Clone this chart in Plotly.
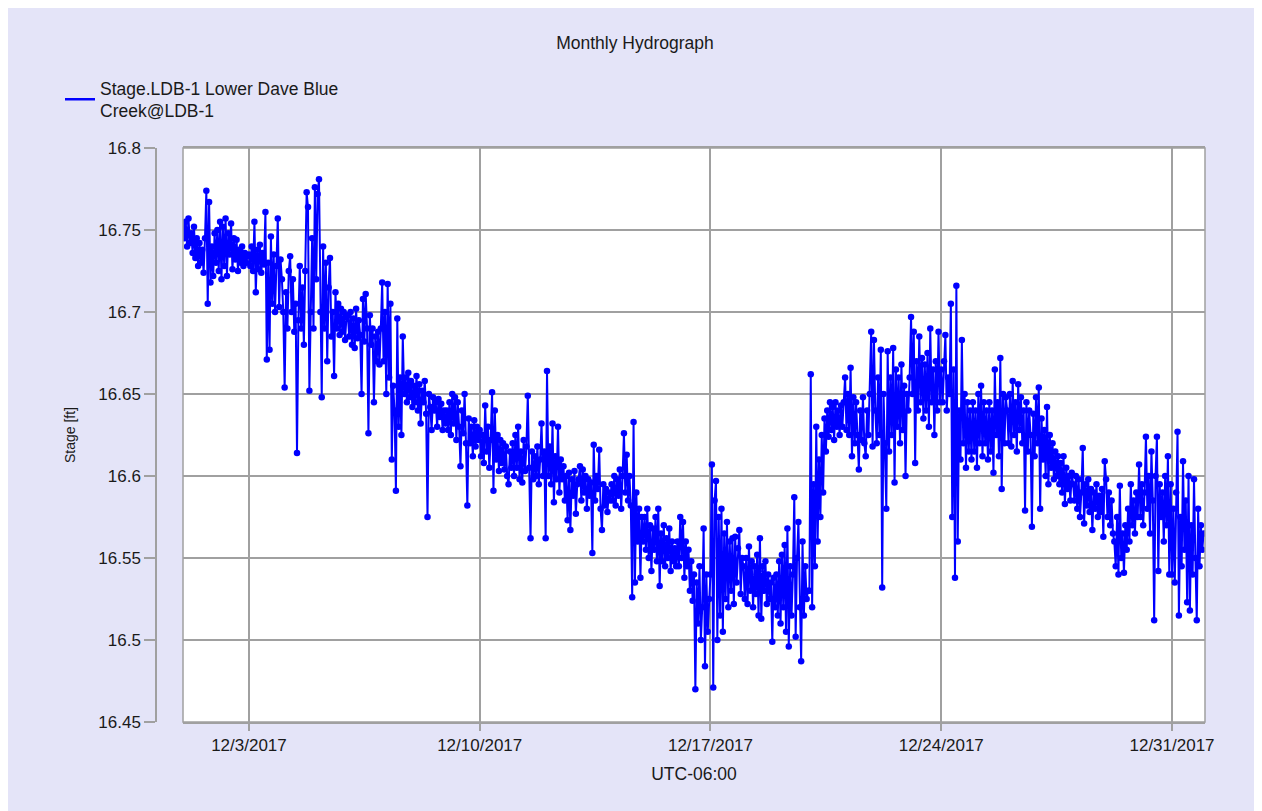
import pandas as pd
import plotly.graph_objects as go

# ---- data (hourly steps starting 12/1/2017 00:00) ----
start_time = "2017-12-01 00:00"
step = "1h"
stage_ft = [
    # 12/1
    16.752, 16.745, 16.755, 16.740, 16.757, 16.742, 16.748, 16.736, 16.752, 16.733, 16.745, 16.728,
    16.742, 16.730, 16.738, 16.724, 16.745, 16.774, 16.705, 16.767, 16.718, 16.740, 16.722, 16.748,
    # 12/2
    16.730, 16.750, 16.725, 16.755, 16.720, 16.752, 16.728, 16.757, 16.722, 16.748, 16.735, 16.754,
    16.726, 16.745, 16.732, 16.744, 16.725, 16.738, 16.730, 16.740, 16.728, 16.736, 16.730, 16.734,
    # 12/3
    16.735, 16.728, 16.740, 16.725, 16.755, 16.712, 16.738, 16.726, 16.741, 16.724, 16.736, 16.729,
    16.761, 16.671, 16.730, 16.677, 16.746, 16.705, 16.735, 16.700, 16.728, 16.757, 16.703, 16.732,
    # 12/4
    16.720, 16.700, 16.654, 16.712, 16.690, 16.725, 16.734, 16.700, 16.720, 16.688, 16.705, 16.614,
    16.695, 16.728, 16.690, 16.715, 16.680, 16.725, 16.773, 16.764, 16.652, 16.700, 16.745, 16.690,
    # 12/5
    16.776, 16.720, 16.772, 16.781, 16.700, 16.648, 16.740, 16.690, 16.730, 16.670, 16.715, 16.733,
    16.685, 16.700, 16.661, 16.712, 16.690, 16.705, 16.686, 16.702, 16.688, 16.700, 16.683, 16.697,
    # 12/6
    16.698, 16.685, 16.700, 16.680, 16.696, 16.678, 16.702, 16.684, 16.695, 16.686, 16.650, 16.708,
    16.682, 16.711, 16.690, 16.626, 16.698, 16.680, 16.690, 16.645, 16.685, 16.670, 16.688, 16.668,
    # 12/7
    16.690, 16.718, 16.670, 16.700, 16.650, 16.717, 16.660, 16.705, 16.610, 16.655, 16.640, 16.591,
    16.696, 16.630, 16.660, 16.625, 16.685, 16.650, 16.660, 16.645, 16.663, 16.648, 16.658, 16.642,
    # 12/8
    16.655, 16.645, 16.661, 16.640, 16.656, 16.632, 16.652, 16.645, 16.658, 16.638, 16.575, 16.650,
    16.642, 16.628, 16.648, 16.640, 16.645, 16.630, 16.647, 16.636, 16.644, 16.628, 16.640, 16.632,
    # 12/9
    16.640, 16.628, 16.645, 16.625, 16.650, 16.632, 16.648, 16.622, 16.645, 16.630, 16.606, 16.640,
    16.626, 16.650, 16.620, 16.582, 16.635, 16.620, 16.630, 16.612, 16.634, 16.618, 16.630, 16.622,
    # 12/10
    16.628, 16.612, 16.625, 16.608, 16.643, 16.615, 16.630, 16.605, 16.622, 16.651, 16.591, 16.640,
    16.610, 16.625, 16.603, 16.622, 16.608, 16.620, 16.604, 16.618, 16.600, 16.595, 16.615, 16.605,
    # 12/11
    16.620, 16.600, 16.625, 16.605, 16.630, 16.598, 16.615, 16.596, 16.622, 16.603, 16.618, 16.649,
    16.605, 16.562, 16.615, 16.598, 16.612, 16.600, 16.618, 16.595, 16.610, 16.632, 16.600, 16.615,
    # 12/12
    16.562, 16.664, 16.600, 16.618, 16.595, 16.632, 16.584, 16.612, 16.598, 16.630, 16.590, 16.610,
    16.598, 16.606, 16.585, 16.600, 16.573, 16.602, 16.567, 16.598, 16.588, 16.603, 16.577, 16.595,
    # 12/13
    16.598, 16.606, 16.585, 16.604, 16.590, 16.600, 16.580, 16.598, 16.588, 16.596, 16.553, 16.619,
    16.585, 16.600, 16.592, 16.616, 16.580, 16.567, 16.595, 16.582, 16.592, 16.578, 16.590, 16.585,
    # 12/14
    16.595, 16.585, 16.600, 16.582, 16.598, 16.588, 16.604, 16.580, 16.600, 16.626, 16.590, 16.613,
    16.585, 16.600, 16.582, 16.526, 16.633, 16.535, 16.590, 16.560, 16.580, 16.538, 16.575, 16.560,
    # 12/15
    16.575, 16.555, 16.580, 16.550, 16.570, 16.542, 16.568, 16.555, 16.575, 16.548, 16.580, 16.533,
    16.565, 16.548, 16.570, 16.545, 16.562, 16.550, 16.568, 16.542, 16.560, 16.548, 16.556, 16.545,
    # 12/16
    16.560, 16.545, 16.575, 16.550, 16.572, 16.538, 16.560, 16.545, 16.555, 16.530, 16.548, 16.524,
    16.540, 16.470, 16.535, 16.510, 16.545, 16.500, 16.520, 16.568, 16.484, 16.540, 16.505, 16.525,
    # 12/17
    16.540, 16.607, 16.471, 16.585, 16.597, 16.500, 16.575, 16.515, 16.580, 16.505, 16.565, 16.525,
    16.572, 16.520, 16.560, 16.530, 16.562, 16.522, 16.563, 16.535, 16.556, 16.567, 16.528, 16.550,
    # 12/18
    16.545, 16.525, 16.550, 16.522, 16.557, 16.530, 16.548, 16.520, 16.545, 16.528, 16.552, 16.515,
    16.562, 16.513, 16.545, 16.530, 16.548, 16.522, 16.540, 16.525, 16.535, 16.499, 16.538, 16.520,
    # 12/19
    16.540, 16.515, 16.548, 16.510, 16.552, 16.520, 16.558, 16.505, 16.568, 16.496, 16.545, 16.515,
    16.540, 16.587, 16.502, 16.550, 16.572, 16.520, 16.487, 16.560, 16.515, 16.545, 16.525, 16.530,
    # 12/20
    16.530, 16.662, 16.520, 16.595, 16.545, 16.630, 16.560, 16.610, 16.575, 16.625, 16.590, 16.635,
    16.615, 16.640, 16.624, 16.645, 16.628, 16.642, 16.622, 16.645, 16.630, 16.640, 16.625, 16.643,
    # 12/21
    16.630, 16.645, 16.660, 16.628, 16.650, 16.625, 16.666, 16.612, 16.648, 16.620, 16.645, 16.625,
    16.604, 16.640, 16.622, 16.648, 16.620, 16.612, 16.640, 16.625, 16.650, 16.688, 16.618, 16.683,
    # 12/22
    16.640, 16.620, 16.660, 16.625, 16.677, 16.532, 16.650, 16.620, 16.580, 16.676, 16.615, 16.660,
    16.625, 16.678, 16.596, 16.665, 16.630, 16.660, 16.620, 16.668, 16.628, 16.655, 16.600, 16.650,
    # 12/23
    16.640, 16.660, 16.697, 16.650, 16.688, 16.608, 16.670, 16.640, 16.685, 16.645, 16.672, 16.635,
    16.668, 16.640, 16.675, 16.630, 16.690, 16.645, 16.665, 16.625, 16.670, 16.640, 16.688, 16.645,
    # 12/24
    16.665, 16.645, 16.670, 16.686, 16.640, 16.660, 16.650, 16.705, 16.575, 16.665, 16.538, 16.716,
    16.560, 16.640, 16.610, 16.683, 16.620, 16.650, 16.605, 16.645, 16.615, 16.640, 16.610, 16.645,
    # 12/25
    16.615, 16.640, 16.605, 16.650, 16.620, 16.655, 16.612, 16.645, 16.620, 16.640, 16.610, 16.645,
    16.615, 16.640, 16.602, 16.665, 16.625, 16.645, 16.612, 16.672, 16.592, 16.650, 16.620, 16.648,
    # 12/26
    16.640, 16.620, 16.650, 16.618, 16.658, 16.625, 16.645, 16.615, 16.656, 16.628, 16.648, 16.620,
    16.640, 16.579, 16.645, 16.615, 16.640, 16.625, 16.569, 16.638, 16.612, 16.648, 16.620, 16.654,
    # 12/27
    16.580, 16.635, 16.610, 16.628, 16.600, 16.642, 16.595, 16.625, 16.605, 16.620, 16.598, 16.615,
    16.600, 16.612, 16.595, 16.608, 16.590, 16.612, 16.583, 16.605, 16.592, 16.600, 16.585, 16.602,
    # 12/28
    16.595, 16.585, 16.600, 16.580, 16.598, 16.575, 16.590, 16.617, 16.571, 16.595, 16.582, 16.598,
    16.578, 16.592, 16.567, 16.590, 16.580, 16.595, 16.575, 16.588, 16.578, 16.592, 16.563, 16.609,
    # 12/29
    16.598, 16.575, 16.590, 16.570, 16.585, 16.565, 16.560, 16.545, 16.575, 16.540, 16.594, 16.550,
    16.565, 16.541, 16.570, 16.555, 16.580, 16.560, 16.595, 16.570, 16.585, 16.565, 16.590, 16.575,
    # 12/30
    16.607, 16.575, 16.595, 16.570, 16.590, 16.624, 16.580, 16.600, 16.565, 16.615, 16.585, 16.512,
    16.600, 16.624, 16.542, 16.595, 16.575, 16.590, 16.560, 16.600, 16.570, 16.612, 16.540, 16.595,
    # 12/31
    16.540, 16.580, 16.535, 16.590, 16.627, 16.515, 16.575, 16.545, 16.609, 16.555, 16.585, 16.523,
    16.600, 16.518, 16.570, 16.540, 16.598, 16.550, 16.512, 16.580, 16.545, 16.570, 16.555, 16.565,
]

x_tick_dates = ["2017-12-03", "2017-12-10", "2017-12-17", "2017-12-24", "2017-12-31"]
x_tick_labels = ["12/3/2017", "12/10/2017", "12/17/2017", "12/24/2017", "12/31/2017"]
y_tick_values = [16.45, 16.5, 16.55, 16.6, 16.65, 16.7, 16.75, 16.8]
y_tick_labels = ["16.45", "16.5", "16.55", "16.6", "16.65", "16.7", "16.75", "16.8"]
x_range = ["2017-12-01 00:00", "2018-01-01 00:00"]
y_range = [16.45, 16.8]
series_name = "Stage.LDB-1 Lower Dave Blue<br>Creek@LDB-1"

times = pd.date_range(start_time, periods=len(stage_ft), freq=step)

BLUE = "#0000FF"
GRID = "#A0A0A0"
TEXT = "#1a1a1a"
BG = "#E4E4F8"
FONT = "Liberation Sans, Arial, sans-serif"

# the page places the figure 8px in from the top-left corner
W, H = 1254, 803
ML, MR, MT, MB = 148, 57, 140, 89
PLOT_LEFT = 175
plot_w = W - ML - MR
plot_h = H - MT - MB
dom0 = (PLOT_LEFT - ML) / plot_w


def px_x(px):
    return (px - ML) / plot_w


def px_y(py):
    return (H - MB - py) / plot_h


fig = go.Figure()
fig.add_trace(go.Scatter(
    x=times, y=stage_ft, mode="lines+markers",
    line=dict(color=BLUE, width=2),
    marker=dict(color=BLUE, size=6.5),
    showlegend=False, name="Stage",
))
# legend entry (line only, like the original legend)
fig.add_trace(go.Scatter(
    x=[None], y=[None], mode="lines", name=series_name,
    line=dict(color=BLUE, width=2.5), showlegend=True,
))

fig.update_layout(
    width=W, height=H, autosize=False,
    margin=dict(l=ML, r=MR, t=MT, b=MB, pad=0),
    paper_bgcolor=BG, plot_bgcolor="white",
    font=dict(family=FONT, size=17, color=TEXT),
    title=dict(text="Monthly Hydrograph", x=0.5, xref="container", xanchor="center",
               y=1 - 35 / H, yref="container", yanchor="middle",
               font=dict(size=17.5, color=TEXT)),
    showlegend=True,
    legend=dict(x=px_x(52), y=px_y(62), xanchor="left", yanchor="top",
                bgcolor="rgba(0,0,0,0)", font=dict(size=17.5, color=TEXT),
                itemwidth=30, tracegroupgap=0),
    xaxis=dict(
        domain=[dom0, 1], range=x_range, type="date",
        tickmode="array", tickvals=x_tick_dates, ticktext=x_tick_labels,
        ticks="outside", ticklen=7, tickwidth=1.5, tickcolor=GRID,
        showgrid=True, gridcolor=GRID, gridwidth=1.5,
        showline=True, linecolor=GRID, linewidth=1.5, mirror=True,
        tickfont=dict(size=17, color=TEXT),
        title=dict(text="UTC-06:00", font=dict(size=17.5, color=TEXT), standoff=14),
        zeroline=False,
    ),
    yaxis=dict(
        range=y_range, anchor="free", position=0,
        tickmode="array", tickvals=y_tick_values, ticktext=y_tick_labels,
        ticks="outside", ticklen=11, tickwidth=1.5, tickcolor=GRID,
        showgrid=True, gridcolor=GRID, gridwidth=1.5,
        showline=True, linecolor=GRID, linewidth=1.5,
        tickfont=dict(size=17, color=TEXT),
        title=dict(text="Stage [ft]", font=dict(size=14, color=TEXT), standoff=18),
        zeroline=False,
    ),
    shapes=[
        # plot-area frame
        dict(type="rect", xref="x domain", yref="y domain", x0=0, x1=1, y0=0, y1=1,
             line=dict(color=GRID, width=1.5), fillcolor="rgba(0,0,0,0)", layer="above"),
    ],
)

fig.write_html("out.html")
